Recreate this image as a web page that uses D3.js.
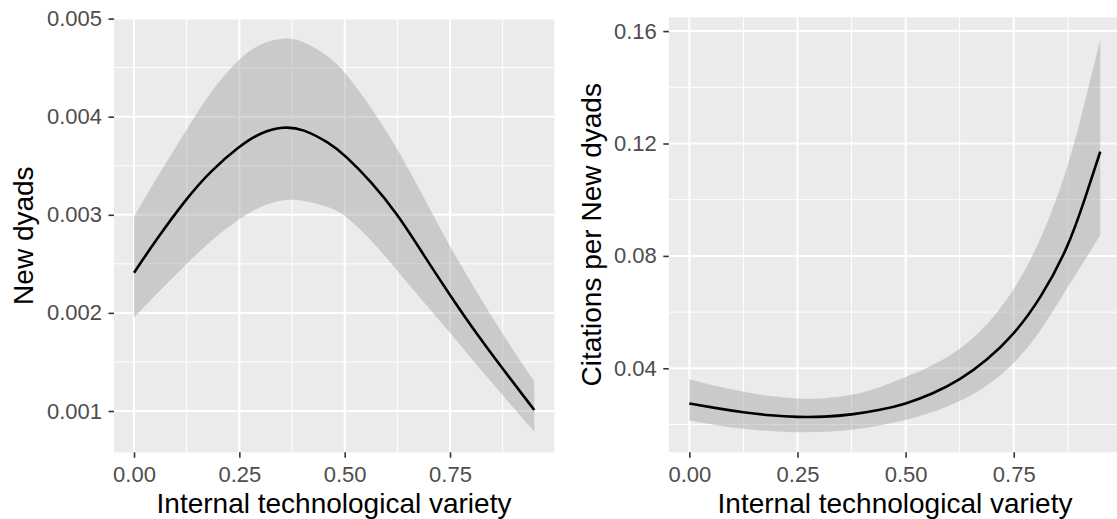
<!DOCTYPE html>
<html>
<head>
<meta charset="utf-8">
<script src="https://cdn.jsdelivr.net/npm/d3@7"></script>
<style>
  html, body { margin: 0; padding: 0; background: #ffffff; }
  svg { display: block; }
</style>
</head>
<body>
<div id="chart"></div>
<script>
// --------------- Data ---------------
// left panel: New dyads vs internal technological variety
const dyadX = [0, 0.05, 0.125, 0.18, 0.25, 0.30, 0.354, 0.40, 0.465, 0.50, 0.5625, 0.625, 0.6875, 0.75, 0.8125, 0.875, 0.95];
const dyadFit = [0.00241, 0.00273, 0.00317, 0.00344, 0.00370, 0.00384, 0.00390, 0.00388, 0.00373, 0.00361, 0.00334, 0.00301, 0.00259, 0.00218, 0.00179, 0.00143, 0.00101];
const dyadUpper = [0.00298, 0.00335, 0.00387, 0.00425, 0.00460, 0.00475, 0.00481, 0.00478, 0.00461, 0.00446, 0.00410, 0.00368, 0.00318, 0.00267, 0.00222, 0.00178, 0.00130];
const dyadLower = [0.00195, 0.00218, 0.00250, 0.00273, 0.00296, 0.00309, 0.00316, 0.00315, 0.00308, 0.00300, 0.00275, 0.00243, 0.00211, 0.00180, 0.00147, 0.00116, 0.00079];

// right panel: Citations per new dyads
const citeX = [0, 0.0625, 0.125, 0.1875, 0.25, 0.3125, 0.375, 0.4375, 0.5, 0.5625, 0.625, 0.6875, 0.75, 0.8125, 0.875, 0.9125, 0.95];
const citeFit = [0.0275, 0.0258, 0.0243, 0.0232, 0.0226, 0.0227, 0.0235, 0.0250, 0.0273, 0.0309, 0.0358, 0.0428, 0.0519, 0.0649, 0.0827, 0.0993, 0.1171];
const citeUpper = [0.0361, 0.0336, 0.0316, 0.0300, 0.0291, 0.0292, 0.0303, 0.0330, 0.0368, 0.0410, 0.0465, 0.0550, 0.0673, 0.0851, 0.1110, 0.1335, 0.1568];
const citeLower = [0.0214, 0.0197, 0.0184, 0.0176, 0.0172, 0.0173, 0.0180, 0.0195, 0.0215, 0.0243, 0.0281, 0.0335, 0.0412, 0.0530, 0.0690, 0.0780, 0.0874];

// tick labels
const xTicks = [0, 0.25, 0.5, 0.75];
const xMinor = [0.125, 0.375, 0.625, 0.875];
const dyadTicks = [0.001, 0.002, 0.003, 0.004, 0.005];
const dyadMinor = [0.0015, 0.0025, 0.0035, 0.0045];
const citeTicks = [0.04, 0.08, 0.12, 0.16];
const citeMinor = [0.02, 0.06, 0.10, 0.14];

// --------------- Constants ---------------
const WIDTH = 1117;
const HEIGHT = 519;
const PANEL_BG = "#EBEBEB";
const RIBBON_FILL = "#999999";
const FONT = "'Liberation Sans', Arial, sans-serif";
const TICK_SIZE = 22;
const TITLE_SIZE = 28;

const svg = d3
  .select("#chart")
  .append("svg")
  .attr("width", WIDTH)
  .attr("height", HEIGHT)
  .style("background", "#ffffff");

function drawPanel(cfg) {
  const x = d3.scaleLinear().domain([-0.0475, 0.9975]).range(cfg.xRange);
  const y = d3.scaleLinear().domain(cfg.yDomain).range(cfg.yRange);
  const [x0, x1] = cfg.xRange;
  const [yb, yt] = cfg.yRange;

  const g = svg.append("g");

  // background
  g.append("rect")
    .attr("x", x0)
    .attr("y", yt)
    .attr("width", x1 - x0)
    .attr("height", yb - yt)
    .attr("fill", PANEL_BG);

  // minor grid
  g.append("g")
    .selectAll("line")
    .data(xMinor)
    .enter()
    .append("line")
    .attr("x1", (d) => x(d))
    .attr("x2", (d) => x(d))
    .attr("y1", yt)
    .attr("y2", yb)
    .attr("stroke", "#ffffff")
    .attr("stroke-width", 1);
  g.append("g")
    .selectAll("line")
    .data(cfg.yMinor)
    .enter()
    .append("line")
    .attr("x1", x0)
    .attr("x2", x1)
    .attr("y1", (d) => y(d))
    .attr("y2", (d) => y(d))
    .attr("stroke", "#ffffff")
    .attr("stroke-width", 1);

  // major grid
  g.append("g")
    .selectAll("line")
    .data(xTicks)
    .enter()
    .append("line")
    .attr("x1", (d) => x(d))
    .attr("x2", (d) => x(d))
    .attr("y1", yt)
    .attr("y2", yb)
    .attr("stroke", "#ffffff")
    .attr("stroke-width", 2);
  g.append("g")
    .selectAll("line")
    .data(cfg.yTicks)
    .enter()
    .append("line")
    .attr("x1", x0)
    .attr("x2", x1)
    .attr("y1", (d) => y(d))
    .attr("y2", (d) => y(d))
    .attr("stroke", "#ffffff")
    .attr("stroke-width", 2);

  const rows = cfg.xs.map((v, i) => ({ x: v, fit: cfg.fit[i], lo: cfg.lower[i], hi: cfg.upper[i] }));

  // confidence ribbon
  const area = d3
    .area()
    .x((d) => x(d.x))
    .y0((d) => y(d.lo))
    .y1((d) => y(d.hi))
    .curve(d3.curveBasis);
  g.append("path")
    .datum(rows)
    .attr("d", area)
    .attr("fill", RIBBON_FILL)
    .attr("fill-opacity", 0.4);

  // fitted line
  const line = d3
    .line()
    .x((d) => x(d.x))
    .y((d) => y(d.fit))
    .curve(d3.curveBasis);
  g.append("path")
    .datum(rows)
    .attr("d", line)
    .attr("fill", "none")
    .attr("stroke", "#000000")
    .attr("stroke-width", 2.6);

  // axes
  const xAxis = g
    .append("g")
    .attr("transform", `translate(0,${yb})`)
    .call(d3.axisBottom(x).tickValues(xTicks).tickFormat(d3.format(".2f")).tickSize(5.5).tickPadding(8.5));
  const yAxis = g
    .append("g")
    .attr("transform", `translate(${x0},0)`)
    .call(d3.axisLeft(y).tickValues(cfg.yTicks).tickFormat(d3.format(cfg.yFormat)).tickSize(5.5).tickPadding(6.5));

  [xAxis, yAxis].forEach((ax) => {
    ax.select(".domain").remove();
    ax.selectAll(".tick line").attr("stroke", "#333333").attr("stroke-width", 1.6);
    ax.selectAll(".tick text")
      .attr("fill", "#4D4D4D")
      .style("font-family", FONT)
      .style("font-size", TICK_SIZE + "px");
  });

  // titles
  g.append("text")
    .attr("x", cfg.xTitleX)
    .attr("y", 513)
    .attr("text-anchor", "middle")
    .style("font-family", FONT)
    .style("font-size", TITLE_SIZE + "px")
    .attr("fill", "#000000")
    .text("Internal technological variety");

  g.append("text")
    .attr("transform", `translate(${cfg.yTitleX},${(yb + yt) / 2}) rotate(-90)`)
    .attr("text-anchor", "middle")
    .style("font-family", FONT)
    .style("font-size", TITLE_SIZE + "px")
    .attr("fill", "#000000")
    .text(cfg.yTitle);
}

drawPanel({
  xRange: [114, 554.3],
  yRange: [452.3, 19],
  yDomain: [0.000579, 0.004996],
  yTicks: dyadTicks,
  yMinor: dyadMinor,
  yFormat: ".3f",
  xs: dyadX,
  fit: dyadFit,
  upper: dyadUpper,
  lower: dyadLower,
  yTitle: "New dyads",
  yTitleX: 33,
  xTitleX: 334,
});

drawPanel({
  xRange: [668.8, 1120.8],
  yRange: [452.3, 17.3],
  yDomain: [0.01011, 0.16491],
  yTicks: citeTicks,
  yMinor: citeMinor,
  yFormat: ".2f",
  xs: citeX,
  fit: citeFit,
  upper: citeUpper,
  lower: citeLower,
  yTitle: "Citations per New dyads",
  yTitleX: 601,
  xTitleX: 895,
});
</script>
</body>
</html>
